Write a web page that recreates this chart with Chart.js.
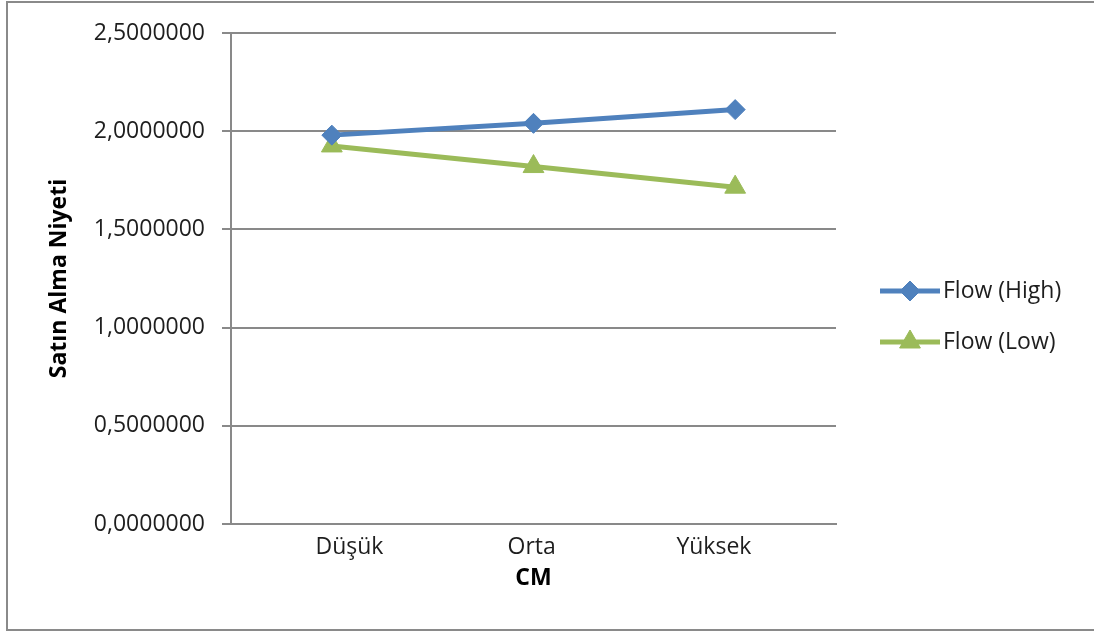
<!DOCTYPE html>
<html>
<head>
<meta charset="utf-8">
<title>Satın Alma Niyeti</title>
<script src="https://cdn.jsdelivr.net/npm/chart.js@4.4.1/dist/chart.umd.min.js"></script>
<style>
  html, body { margin: 0; padding: 0; background: #ffffff; }
  #wrap { position: relative; width: 1094px; height: 632px; }
</style>
</head>
<body>
<div id="wrap"><canvas id="c" width="1094" height="632"></canvas></div>
<script>
// Categories along the CM axis
const categories = ['Düşük', 'Orta', 'Yüksek'];
// Mean purchase intention per flow condition
const flowHigh = [1.98, 2.04, 2.11];
const flowLow = [1.925, 1.82, 1.715];
const seriesNames = ['Flow (High)', 'Flow (Low)'];
// Value axis ticks
const yTicks = [0, 0.5, 1, 1.5, 2, 2.5];

const FONT = '"Open Sans", "DejaVu Sans", sans-serif';
const TEXT = '#1e1e1e';
const GRID = '#898989';
const BLUE = '#4f81bd';
const GREEN = '#9bbb59';

// Outer frame of the chart object
const framePlugin = {
  id: 'frame',
  beforeDraw(chart) {
    const ctx = chart.ctx;
    ctx.save();
    ctx.fillStyle = '#ffffff';
    ctx.fillRect(0, 0, chart.width, chart.height);
    ctx.strokeStyle = '#8a8a8a';
    ctx.lineWidth = 2;
    ctx.strokeRect(7, 2, chart.width + 10, 628);
    ctx.restore();
  }
};

// Legend entries: a line sample with the series marker in its middle
const lineLegendPlugin = {
  id: 'lineLegend',
  afterDraw(chart) {
    const ctx = chart.ctx;
    const x0 = 880, x1 = 940, textX = 943;
    const rows = [291, 342];
    ctx.save();
    chart.data.datasets.forEach((ds, i) => {
      const y = rows[i];
      ctx.strokeStyle = ds.borderColor;
      ctx.lineWidth = ds.borderWidth;
      ctx.lineCap = 'butt';
      ctx.beginPath();
      ctx.moveTo(x0, y);
      ctx.lineTo(x1, y);
      ctx.stroke();
      ctx.fillStyle = ds.pointBackgroundColor;
      ctx.strokeStyle = ds.pointBorderColor;
      ctx.lineWidth = 1;
      Chart.helpers.drawPoint(ctx, {
        pointStyle: ds.pointStyle,
        radius: ds.pointRadius,
        borderWidth: 1,
        rotation: 0
      }, (x0 + x1) / 2, y);
      ctx.fillStyle = TEXT;
      ctx.font = '23px ' + FONT;
      ctx.textBaseline = 'middle';
      ctx.textAlign = 'left';
      ctx.fillText(ds.label, textX, y);
    });
    ctx.restore();
  }
};

const chart = new Chart(document.getElementById('c'), {
  type: 'line',
  data: {
    labels: categories,
    datasets: [
      {
        label: seriesNames[0],
        data: flowHigh,
        borderColor: BLUE,
        backgroundColor: BLUE,
        borderWidth: 5,
        pointStyle: 'rectRot',
        pointRadius: 10,
        pointBackgroundColor: BLUE,
        pointBorderColor: BLUE,
        pointBorderWidth: 1,
        tension: 0,
        xAxisID: 'x'
      },
      {
        label: seriesNames[1],
        data: flowLow,
        borderColor: GREEN,
        backgroundColor: GREEN,
        borderWidth: 5,
        pointStyle: 'triangle',
        pointRadius: 12,
        pointBackgroundColor: GREEN,
        pointBorderColor: GREEN,
        pointBorderWidth: 1,
        tension: 0,
        xAxisID: 'x'
      }
    ]
  },
  options: {
    responsive: false,
    animation: false,
    layout: { padding: { left: 0, right: 258, top: 33, bottom: 0 } },
    plugins: {
      legend: { display: false },
      tooltip: { enabled: false }
    },
    scales: {
      x: {
        type: 'category',
        position: 'bottom',
        offset: true,
        weight: 0,
        grid: { display: false, drawTicks: false },
        border: { display: true, color: GRID, width: 2 },
        ticks: { display: false },
        afterFit(scale) { scale.height = 0; }
      },
      xl: {
        type: 'linear',
        position: 'bottom',
        weight: 1,
        min: -0.65,
        max: 2.67,
        grid: { display: false, drawTicks: false },
        border: { display: false },
        afterBuildTicks(scale) {
          scale.ticks = categories.map((_, i) => ({ value: i }));
        },
        ticks: {
          autoSkip: false,
          maxRotation: 0,
          padding: 10,
          color: TEXT,
          font: { family: FONT, size: 23 },
          callback: (v) => categories[v]
        },
        title: {
          display: true,
          text: 'CM',
          color: '#000000',
          font: { family: FONT, size: 23, weight: 'bold' },
          padding: { top: 0, bottom: 40 }
        },
        afterFit(scale) { scale.height = 108; }
      },
      y: {
        min: 0,
        max: 2.5,
        afterBuildTicks(scale) {
          scale.ticks = yTicks.map(v => ({ value: v }));
        },
        grid: {
          color: GRID,
          lineWidth: 2,
          drawTicks: true,
          tickLength: 9,
          tickColor: GRID
        },
        border: { display: true, color: GRID, width: 2 },
        ticks: {
          padding: 17,
          color: TEXT,
          font: { family: FONT, size: 23 },
          callback: (v) => v.toFixed(7).replace('.', ',')
        },
        title: {
          display: true,
          text: 'Satın Alma Niyeti',
          color: '#000000',
          font: { family: FONT, size: 23, weight: 'bold' },
          padding: { top: 46, bottom: 0 }
        },
        afterFit(scale) { scale.width = 231; }
      }
    }
  },
  plugins: [framePlugin, lineLegendPlugin]
});
</script>
</body>
</html>
